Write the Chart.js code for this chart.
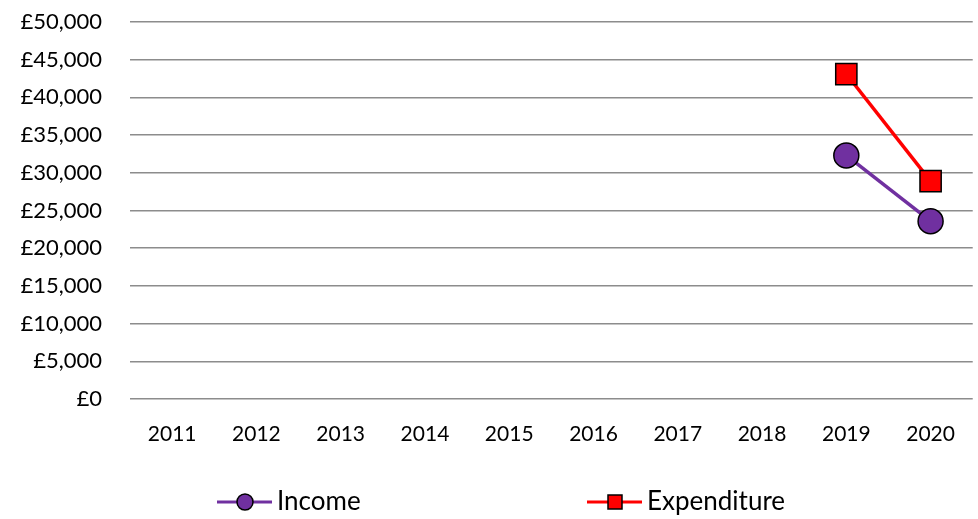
<!DOCTYPE html>
<html>
<head>
<meta charset="utf-8">
<script src="https://cdn.jsdelivr.net/npm/chart.js@4/dist/chart.umd.min.js"></script>
<style>
  html, body { margin: 0; padding: 0; background: #fff; }
  #wrap { width: 978px; height: 519px; position: relative; }
</style>
</head>
<body>
<div id="wrap"><canvas id="financeChart"></canvas></div>
<script>
const years = ['2011', '2012', '2013', '2014', '2015', '2016', '2017', '2018', '2019', '2020'];
const income = [null, null, null, null, null, null, null, null, 32300, 23580];
const expenditure = [null, null, null, null, null, null, null, null, 43100, 28900];
const seriesNames = ['Income', 'Expenditure'];

const FONT = 'Lato, "DejaVu Sans", sans-serif';

// legend drawn by hand so the two entries sit far apart like the original
const bottomLegend = {
    id: 'bottomLegend',
    afterDraw(chart) {
        const ctx = chart.ctx;
        const y = 502;
        const items = [
            { x: 217, ds: chart.data.datasets[0] },
            { x: 587, ds: chart.data.datasets[1] }
        ];
        ctx.save();
        items.forEach(function (it) {
            ctx.strokeStyle = it.ds.borderColor;
            ctx.lineWidth = 3;
            ctx.beginPath();
            ctx.moveTo(it.x, y);
            ctx.lineTo(it.x + 55, y);
            ctx.stroke();
            ctx.fillStyle = it.ds.pointBackgroundColor;
            ctx.strokeStyle = '#000';
            ctx.lineWidth = 1.5;
            const cx = it.x + 28;
            if (it.ds.pointStyle === 'rect') {
                ctx.fillRect(cx - 7, y - 7, 14, 14);
                ctx.strokeRect(cx - 7, y - 7, 14, 14);
            } else {
                ctx.beginPath();
                ctx.arc(cx, y, 8, 0, Math.PI * 2);
                ctx.fill();
                ctx.stroke();
            }
            ctx.fillStyle = '#000';
            ctx.font = '26px ' + FONT;
            ctx.textBaseline = 'middle';
            ctx.fillText(it.ds.label, it.x + 60, y);
        });
        ctx.restore();
    }
};

new Chart(document.getElementById('financeChart').getContext('2d'), {
    type: 'line',
    data: {
        labels: years,
        datasets: [{
            label: seriesNames[0],
            data: income,
            borderColor: '#7030A0',
            borderWidth: 3.5,
            pointStyle: 'circle',
            pointRadius: 12.5,
            pointBackgroundColor: '#7030A0',
            pointBorderColor: '#000',
            pointBorderWidth: 1.5,
            fill: false
        }, {
            label: seriesNames[1],
            data: expenditure,
            borderColor: '#FF0000',
            borderWidth: 3.5,
            pointStyle: 'rect',
            pointRadius: 15,
            pointBackgroundColor: '#FF0000',
            pointBorderColor: '#000',
            pointBorderWidth: 1.5,
            fill: false
        }]
    },
    options: {
        responsive: true,
        maintainAspectRatio: false,
        animation: false,
        layout: {
            autoPadding: false,
            padding: { top: 22, right: 1, bottom: 60, left: 0 }
        },
        plugins: {
            legend: { display: false },
            tooltip: { enabled: false }
        },
        scales: {
            x: {
                offset: true,
                border: { display: false },
                grid: { display: false, drawTicks: false },
                ticks: {
                    color: '#000',
                    padding: 23,
                    maxRotation: 0,
                    font: { family: FONT, size: 21 }
                },
                afterFit: function (scale) { scale.height = 60; }
            },
            y: {
                min: 0,
                max: 50000,
                border: { display: false },
                grid: { color: '#8c8c8c', lineWidth: 1.5, drawTicks: true, tickLength: 28, tickColor: 'rgba(0,0,0,0)' },
                ticks: {
                    stepSize: 5000,
                    color: '#000',
                    padding: 0,
                    font: { family: FONT, size: 22 },
                    callback: function (v) { return '£' + v.toLocaleString('en-GB'); }
                },
                afterFit: function (scale) { scale.width = 130; }
            }
        }
    },
    plugins: [bottomLegend]
});
</script>
</body>
</html>
